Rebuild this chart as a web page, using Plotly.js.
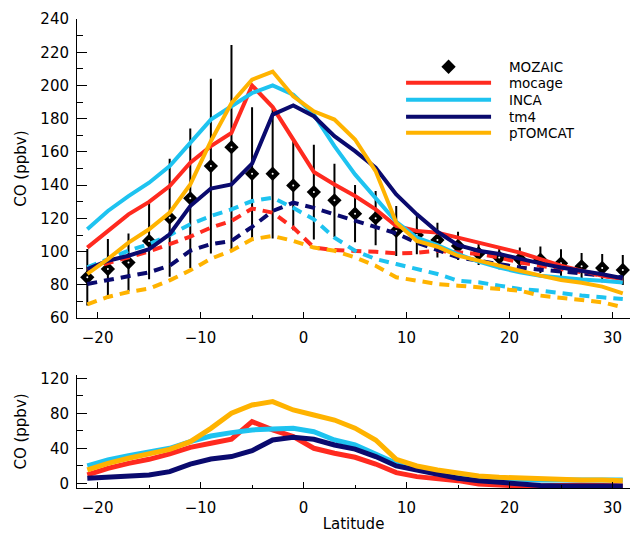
<!DOCTYPE html>
<html>
<head>
<meta charset="utf-8">
<script src="https://cdn.plot.ly/plotly-3.0.1.min.js"></script>
<style>html,body{margin:0;padding:0;background:#fff;}#chart{width:630px;height:533px;}</style>
</head>
<body>
<div id="chart"></div>
<script>
// Latitudes (degrees)
const lat = [-21,-19,-17,-15,-13,-11,-9,-7,-5,-3,-1,1,3,5,7,9,11,13,15,17,19,21,23,25,27,29,31];

// MOZAIC observations (ppbv) and standard deviation
const mozaic = [84.6,89.6,93.5,106.5,120.5,132.1,151.5,162.9,146.9,146.9,139.9,135.9,130.9,122.9,120.2,112.5,110,107,103.5,99,96.5,95.6,95.2,93,91.2,90.2,89];
const mozaicSd = [17,18,17.4,23,35.5,42,52.5,61.5,40,39,27,28.5,22,17.2,16.3,15,11.5,10.5,8.5,7,7,7,8,8.5,8,8.5,9];

// Models, total CO (solid, top panel)
const mocage  = [102.5,112.5,122.5,130,139.5,153.5,163.5,171.5,200,187,167,148,140.5,133.5,125.5,115.5,112.5,111.5,108.5,105.5,102.5,99.5,95.6,91.6,88.6,85.6,83.6];
const inca    = [113.5,124.5,133.5,141.5,151.5,165.5,179.5,187.5,195.5,200,194.5,182.5,163.5,146.5,132.5,118,108.5,104,98.5,94,90.5,87.6,85.6,84.2,83.3,82.5,81.5];
const tm4     = [89.6,94.6,97.6,101.6,110.5,127.5,138,140.5,153,182.5,188,181.5,169.5,160.5,150.5,134.5,122.5,112,104,100.6,98.6,95.6,93,90.5,88.6,86.4,84];
const ptomcat = [86.6,95.6,105.5,113.5,123.5,140.5,166.5,189.4,203.5,208.4,193.5,184.5,179.5,167.5,148.5,117.5,106.5,103,97.6,94.6,91.6,88,85.6,83,81.3,79,75];

// Models, second CO estimate (dashed, top panel)
const mocageB  = [89.6,93.2,96.6,100.2,104.6,109.1,114.5,118.5,126,123.5,114.5,102.5,101,100.6,100,99,99.4,100.6,99.5,98.6,96.6,93.5,91.6,89.6,87.6,85.6,83.6];
const incaB    = [90.6,95.6,100.6,104.6,110,116.5,121.5,125.5,130.5,132.5,126.4,119.5,108.5,100.6,95.6,92.6,89.6,86.6,82.6,81.6,79.6,77.6,76.6,75,73.6,72.6,71.5];
const tm4B     = [80.6,83,85.6,87.6,91.6,100.6,104.6,106.5,115,124.5,129.5,126.4,122.5,118.5,114.5,111,105.5,101,96.6,94.6,92.6,90.5,89.2,88.2,87,85.6,84.6];
const ptomcatB = [68.4,72.8,75.8,77.8,82.8,88.8,95.8,100.6,107.5,109.5,106.5,102.5,100.6,96.6,91.6,84.6,82.6,80.6,79.6,78.6,77.6,76.6,73.6,72.6,71,69.6,66.6];

// Bottom panel (ppbv)
const mocageLow  = [9.5,17,22.8,27.4,33.5,41,45.7,50.3,70.5,61,53.3,40,34.3,29.7,22,12.2,7.6,5.7,3,-0.8,-2.5,-3,-3,-2,-2,-2.5,-3];
const incaLow    = [19.8,26.6,31.6,35.4,40,47.6,54,57.9,61,62,62.8,59,49.5,43.8,33.5,22.8,17.1,13.3,9.5,7.6,5.7,4.6,3.8,3.8,3.8,3.8,3.8];
const tm4Low     = [5.7,6.5,7.6,9.5,13.3,22,27.8,30.5,37.3,49.5,52.5,50.3,43.8,39,30.5,19.8,15.2,10.6,5.7,3,0.8,-0.8,-2.5,-3,-3,-3,-3];
const ptomcatLow = [15.2,22.8,28.6,33,38.8,47.6,62.8,80,89.5,93.3,83.8,78,72.3,63,49.5,27.4,19.8,15.2,11.4,8.3,6.8,5.7,4.6,3.8,3.8,3.8,3];

const modelNames = ['mocage','INCA','tm4','pTOMCAT'];
const colors = ['#ff2a1f','#1ec3f0','#0a0a6e','#ffb300'];

const FONT = 'DejaVu Sans, Arial, sans-serif';
const PAD = '\u00A0\u00A0\u00A0';

const traces = [];
// MOZAIC with error bars
traces.push({
  x: lat, y: mozaic, type: 'scatter', mode: 'markers', name: PAD + 'MOZAIC',
  marker: {symbol: 'diamond', size: 11, color: 'black', line: {width: 0}},
  error_y: {type: 'data', array: mozaicSd, visible: true, color: 'black', thickness: 2, width: 0},
  legend: 'legend', xaxis: 'x', yaxis: 'y', hoverinfo: 'skip'
});
traces.push({
  x: lat, y: mozaic, type: 'scatter', mode: 'markers', showlegend: false,
  marker: {symbol: 'circle', size: 2, color: 'white', line: {width: 0}},
  xaxis: 'x', yaxis: 'y', hoverinfo: 'skip'
});
// dashed model lines
[mocageB, incaB, tm4B, ptomcatB].forEach((s, i) => {
  traces.push({
    x: lat, y: s, type: 'scatter', mode: 'lines', showlegend: false,
    line: {color: colors[i], width: 4, dash: '10px,7px'},
    xaxis: 'x', yaxis: 'y', hoverinfo: 'skip'
  });
});
// solid model lines
const legendIds = ['legend2','legend3','legend4','legend5'];
[mocage, inca, tm4, ptomcat].forEach((s, i) => {
  traces.push({
    x: lat, y: s, type: 'scatter', mode: 'lines', name: PAD + modelNames[i],
    line: {color: colors[i], width: 4},
    legend: legendIds[i], xaxis: 'x', yaxis: 'y', hoverinfo: 'skip'
  });
});
// bottom panel
[mocageLow, incaLow, tm4Low, ptomcatLow].forEach((s, i) => {
  traces.push({
    x: lat, y: s, type: 'scatter', mode: 'lines', showlegend: false,
    line: {color: colors[i], width: 5},
    xaxis: 'x2', yaxis: 'y2', hoverinfo: 'skip'
  });
});

const xCommon = {
  range: [-22, 31.7], showgrid: false, zeroline: false,
  showline: true, linecolor: 'black', linewidth: 1,
  ticks: 'inside', ticklen: 6, tickwidth: 1, tickcolor: 'black',
  dtick: 10, tick0: 0, ticklabelstandoff: 6,
  minor: {dtick: 5, ticks: 'inside', ticklen: 3, tickcolor: 'black', showgrid: false},
  tickfont: {family: FONT, size: 15, color: 'black'}
};
const yCommon = {
  showgrid: false, zeroline: false,
  showline: true, linecolor: 'black', linewidth: 1,
  ticks: 'inside', ticklen: 10, tickwidth: 1, tickcolor: 'black',
  ticklabelstandoff: 4,
  tickfont: {family: FONT, size: 15, color: 'black'}
};

function legendAt(yPaper) {
  return {
    x: 0.586, y: yPaper, xanchor: 'left', yanchor: 'middle',
    bgcolor: 'rgba(0,0,0,0)', borderwidth: 0,
    font: {family: FONT, size: 13.5, color: 'black'},
    itemwidth: 85, itemclick: false, itemdoubleclick: false
  };
}

const layout = {
  width: 630, height: 533,
  margin: {l: 77, r: 0, t: 19, b: 45},
  paper_bgcolor: 'white', plot_bgcolor: 'white',
  font: {family: FONT, size: 15, color: 'black'},
  xaxis: Object.assign({}, xCommon, {domain: [0, 1], anchor: 'y'}),
  yaxis: Object.assign({}, yCommon, {
    domain: [0.362, 1], anchor: 'x', range: [60, 240], dtick: 20, tick0: 0,
    minor: {dtick: 10, ticks: 'inside', ticklen: 6, tickcolor: 'black', showgrid: false},
    title: {text: 'CO (ppbv)', font: {family: FONT, size: 15, color: 'black'}, standoff: 10}
  }),
  xaxis2: Object.assign({}, xCommon, {
    domain: [0, 1], anchor: 'y2',
    title: {text: 'Latitude', font: {family: FONT, size: 15, color: 'black'}, standoff: 4}
  }),
  yaxis2: Object.assign({}, yCommon, {
    domain: [0, 0.241], anchor: 'x2', range: [-5.4, 123.8], dtick: 40, tick0: 0,
    minor: {dtick: 20, ticks: 'inside', ticklen: 6, tickcolor: 'black', showgrid: false},
    title: {text: 'CO (ppbv)', font: {family: FONT, size: 15, color: 'black'}, standoff: 10}
  }),
  legend: legendAt(0.8977),
  legend2: legendAt(0.8635),
  legend3: legendAt(0.8273),
  legend4: legendAt(0.7910),
  legend5: legendAt(0.7569),
  showlegend: true
};

Plotly.newPlot('chart', traces, layout, {staticPlot: true, displayModeBar: false});
</script>
</body>
</html>
